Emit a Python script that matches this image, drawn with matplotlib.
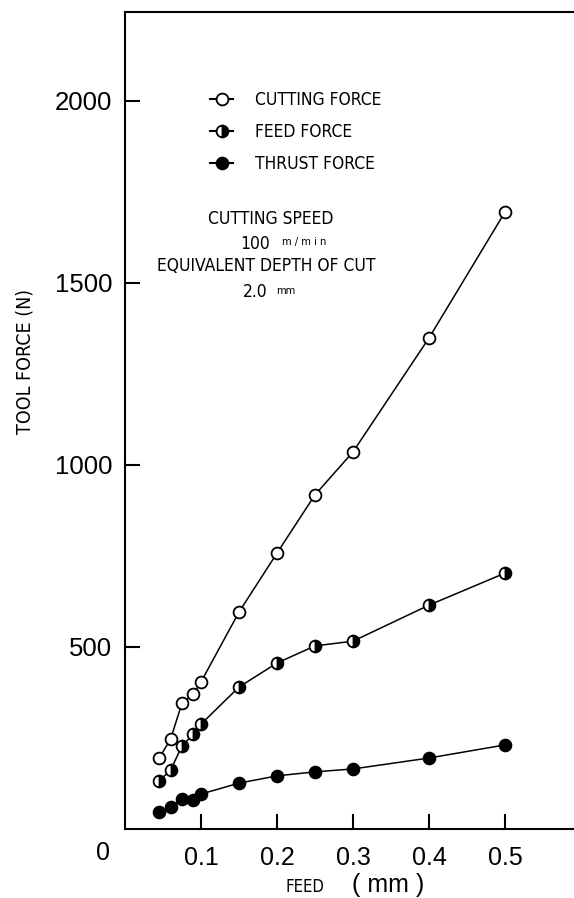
import numpy as np
import matplotlib.pyplot as plt
from matplotlib.lines import Line2D

feed = [0.045, 0.06, 0.075, 0.09, 0.1, 0.15, 0.2, 0.25, 0.3, 0.4, 0.5]
cutting_force = [195, 247, 346, 371, 404, 596, 758, 918, 1036, 1349, 1695]
feed_force = [132, 162, 228, 261, 288, 390, 456, 503, 516, 615, 703]
thrust_force = [47, 60, 82, 80, 96, 126, 146, 157, 165, 195, 231]

x_ticks = [0.1, 0.2, 0.3, 0.4, 0.5]
y_ticks = [500, 1000, 1500, 2000]

num_font = 'Liberation Sans'
txt_font = 'DejaVu Sans'

fig = plt.figure(figsize=(5.74, 8.98), dpi=100)
ax = fig.add_axes([125 / 574, 1 - 829 / 898, 449 / 574, 817 / 898])

style = dict(color='black', lw=1.1, ms=8.5, mew=1.3, mec='black', clip_on=False)
ax.plot(feed, cutting_force, marker='o', mfc='white', **style)
ax.plot(feed, feed_force, marker='o', mfc='black', fillstyle='right',
        markerfacecoloralt='white', **style)
ax.plot(feed, thrust_force, marker='o', mfc='black', **style)

ax.set_xlim(0, 449 / 760)
ax.set_ylim(0, 817 / 0.364)
ax.set_xticks(x_ticks)
ax.set_yticks(y_ticks)
ax.set_xticklabels([str(v) for v in x_ticks], fontfamily=num_font, fontsize=18)
ax.set_yticklabels([str(v) for v in y_ticks], fontfamily=num_font, fontsize=18.5)
ax.tick_params(direction='in', length=11, width=1.5, pad=9)
ax.tick_params(axis='x', pad=12)
ax.spines['right'].set_visible(False)
for s in ['left', 'bottom', 'top']:
    ax.spines[s].set_linewidth(1.5)

# origin label sits below the corner
ax.annotate('0', (0, 0), xytext=(-16, -17), textcoords='offset points',
            ha='center', va='center', fontfamily=num_font, fontsize=18)

# legend
handles = [
    Line2D([], [], color='black', lw=1.5, marker='o', mfc='white', mec='black', ms=8.5, mew=1.3),
    Line2D([], [], color='black', lw=1.5, marker='o', mfc='black', fillstyle='right',
           markerfacecoloralt='white', mec='black', ms=8.5, mew=1.3),
    Line2D([], [], color='black', lw=1.5, marker='o', mfc='black', mec='black', ms=8.5, mew=1.3),
]
labels = ['CUTTING FORCE', 'FEED FORCE', 'THRUST FORCE']
ax.legend(handles, labels, loc='upper left', bbox_to_anchor=(0.155, 0.922),
          frameon=False, handlelength=1.3, handletextpad=1.3, labelspacing=0.8,
          prop=dict(family=txt_font, stretch='condensed', size=12.5))

# test conditions
cond = dict(family=txt_font, stretch='condensed', ha='center', va='center')
ax.text(0.325, 0.7465, 'CUTTING SPEED', transform=ax.transAxes, size=12.5, **cond)
ax.text(0.29, 0.716, '100', transform=ax.transAxes, size=12.5, **cond)
ax.text(0.4, 0.718, 'm / m i n', transform=ax.transAxes, size=8, **cond)
ax.text(0.315, 0.689, 'EQUIVALENT DEPTH OF CUT', transform=ax.transAxes, size=12.5, **cond)
ax.text(0.29, 0.657, '2.0', transform=ax.transAxes, size=12.5, **cond)
ax.text(0.358, 0.659, 'mm', transform=ax.transAxes, size=8, **cond)

# axis titles
fig.text(25 / 574, 1 - 362 / 898, 'TOOL FORCE (N)', rotation=90, ha='center', va='center',
         family=txt_font, stretch='condensed', size=14)
fig.text(305 / 574, 1 - 887 / 898, 'FEED', ha='center', va='center',
         family=txt_font, stretch='condensed', size=12)
fig.text(388 / 574, 1 - 885 / 898, '( mm )', ha='center', va='center',
         family=num_font, size=18)

fig.savefig('out.png', dpi=100)
